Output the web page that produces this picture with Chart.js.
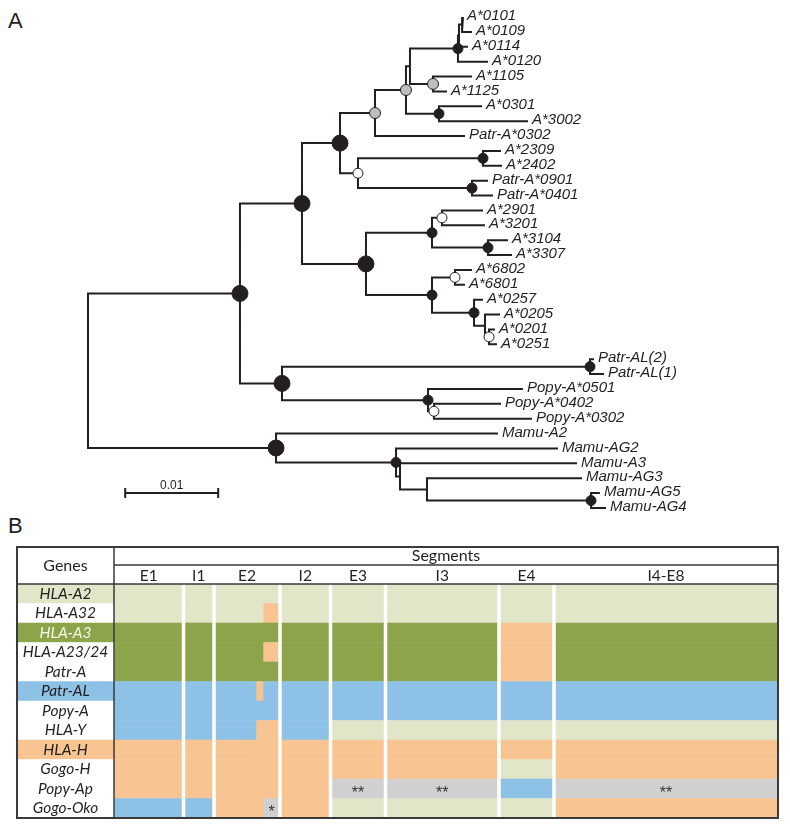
<!DOCTYPE html>
<html lang="en">
<head>
<meta charset="UTF-8">
<title>HLA-A phylogeny and segment lineages</title>
<script src="https://cdn.jsdelivr.net/npm/chart.js"></script>
<style>
    body { margin: 0; background: #fff; }
    .page { position: relative; width: 790px; height: 830px; overflow: hidden; }
    .page canvas { position: absolute; left: 0; top: 0; }
    .panel { position: absolute; left: 8px; font-family: 'Liberation Sans', Arial, sans-serif; font-size: 22px; line-height: 26px; color: #231f20; }
</style>
</head>
<body>
<div class="page">
    <div class="panel" style="top: 8px">A</div>
    <div class="panel" style="top: 513px">B</div>
    <canvas id="tableChart" width="790" height="830"></canvas>
    <canvas id="treeChart" width="790" height="830"></canvas>
</div>
<script>
// ---- panel A: tree data ----
// tips, top to bottom
const taxa = ['A*0101', 'A*0109', 'A*0114', 'A*0120', 'A*1105', 'A*1125', 'A*0301', 'A*3002', 'Patr-A*0302',
    'A*2309', 'A*2402', 'Patr-A*0901', 'Patr-A*0401', 'A*2901', 'A*3201', 'A*3104', 'A*3307', 'A*6802', 'A*6801',
    'A*0257', 'A*0205', 'A*0201', 'A*0251', 'Patr-AL(2)', 'Patr-AL(1)', 'Popy-A*0501', 'Popy-A*0402', 'Popy-A*0302',
    'Mamu-A2', 'Mamu-AG2', 'Mamu-A3', 'Mamu-AG3', 'Mamu-AG5', 'Mamu-AG4'];
// distance from root to each tip
const tipDist = [0.04032, 0.04129, 0.04086, 0.04301, 0.04129, 0.03860, 0.04237, 0.04731, 0.04054,
    0.04441, 0.04452, 0.04301, 0.04355, 0.04247, 0.04269, 0.04516, 0.04559, 0.04129, 0.04054,
    0.04247, 0.04430, 0.04376, 0.04398, 0.05441, 0.05548, 0.04677, 0.04441, 0.04774,
    0.04409, 0.05054, 0.05258, 0.05312, 0.05505, 0.05570];
const tipParent = ['nb', 'nb', 'na', 'n6', 'g3', 'g3', 'n7', 'n7', 'g1',
    'n8', 'n8', 'n9', 'n9', 'w2', 'w2', 'n12', 'n12', 'w3', 'w3',
    'n13', 'n14', 'w4', 'w4', 'al', 'al', 'p1', 'pw', 'pw',
    'm', 'm2', 'm3', 'm4', 'm5', 'm5'];

// internal nodes
const nodeNames = ['root', 'n1', 'm', 'n2', 'n3', 'n5', 'n4', 'g1', 'w1', 'g2', 'gx', 'n7', 'n6', 'na', 'nb', 'g3',
    'n8', 'n9', 'n10', 'n11', 'w2', 'n12', 'w3', 'n13', 'n14', 'w4', 'al', 'p1', 'pw', 'm2', 'm3', 'm4', 'm5'];
const nodeParent = [null, 'root', 'root', 'n1', 'n1', 'n2', 'n2', 'n5', 'n5', 'g1', 'g2', 'g2', 'gx', 'n6', 'na', 'gx',
    'w1', 'w1', 'n4', 'n4', 'n10', 'n10', 'n11', 'n11', 'n13', 'n14', 'n3', 'n3', 'p1', 'm', 'm2', 'm3', 'm4'];
const nodeDist = [0, 0.01634, 0.02022, 0.02301, 0.02086, 0.02710, 0.02989, 0.03086, 0.02903, 0.03419, 0.03462, 0.03774,
    0.03978, 0.03989, 0.04022, 0.03710, 0.04247, 0.04129, 0.03699, 0.03699, 0.03806, 0.04301, 0.03946, 0.04151,
    0.04269, 0.04312, 0.05398, 0.03656, 0.03720, 0.03312, 0.03355, 0.03645, 0.05409];
// node support class ('' = not marked)
const nodeSupport = ['', 'strong', 'strong', 'strong', 'strong', 'strong', 'strong', 'mid', 'low', 'mid', '', 'high',
    'high', '', '', 'mid', 'high', 'high', 'high', 'high', 'low', 'high', 'low', 'high', '', 'low', 'high', 'high',
    'low', 'high', '', '', 'high'];

const scaleBarLength = 0.01;
const scaleBarStart = 0.004;

// ---- panel B: segment table data ----
const genes = ['HLA-A2', 'HLA-A32', 'HLA-A3', 'HLA-A23/24', 'Patr-A', 'Patr-AL', 'Popy-A', 'HLA-Y', 'HLA-H', 'Gogo-H', 'Popy-Ap', 'Gogo-Oko'];
const segments = ['E1', 'I1', 'E2', 'I2', 'E3', 'I3', 'E4', 'I4-E8'];
const segLength = [69.5, 30.5, 66, 50.5, 55, 113.5, 55, 224];
// exon 2 splits into three pieces
const e2Parts = [42, 7, 17];
// lineage of each piece: E1, I1, E2a, E2b, E2c, I2, E3, I3, E4, I4-E8
// g = HLA-A2, G = HLA-A3, b = Patr-AL, o = HLA-H, x = unresolved
const cells = [
    'gggggggggg',
    'ggggoggggg',
    'GGGGGGGGoG',
    'GGGGoGGGoG',
    'GGGGGGGGoG',
    'bbbobbbbbb',
    'bbbbbbbbbb',
    'bbboobgggg',
    'oooooooooo',
    'oooooooogo',
    'ooooooxxbx',
    'bbooxogggo'
];
// reference gene of each lineage (coloured label)
const rowLineage = ['g', '', 'G', '', '', 'b', '', '', 'o', '', '', ''];
const unresolvedMark = { 'Popy-Ap': '**', 'Gogo-Oko': '*' };

const INK = '#231f20';
const lineageColor = { g: '#e1e6c8', G: '#8ca54b', b: '#8ec1e6', o: '#f8c592', x: '#d0d0d0' };

// ---- tree layout ----
const pos = {};
const kids = {};
nodeNames.forEach(n => kids[n] = []);
taxa.forEach((t, i) => {
    pos['tip' + i] = { x: tipDist[i], y: i };
    kids[tipParent[i]].push('tip' + i);
});
nodeNames.forEach((n, i) => { if (nodeParent[i]) kids[nodeParent[i]].push(n); });
function place(n) {
    if (pos[n]) return pos[n];
    const ys = kids[n].map(c => place(c).y);
    pos[n] = { x: nodeDist[nodeNames.indexOf(n)], y: (Math.min(...ys) + Math.max(...ys)) / 2 };
    return pos[n];
}
place('root');

const branchPts = [];
nodeNames.forEach(n => {
    const p = pos[n];
    const ch = kids[n].map(c => pos[c]).sort((a, b) => a.y - b.y);
    const first = ch[0], last = ch[ch.length - 1];
    branchPts.push({ x: first.x, y: first.y }, { x: p.x, y: first.y }, { x: p.x, y: last.y }, { x: last.x, y: last.y }, { x: null, y: null });
    ch.slice(1, -1).forEach(c => branchPts.push({ x: p.x, y: c.y }, { x: c.x, y: c.y }, { x: null, y: null }));
});

const supportStyle = {
    strong: { r: 8, fill: INK },
    high: { r: 5, fill: INK },
    mid: { r: 5.5, fill: '#bfbfbf' },
    low: { r: 5, fill: '#ffffff' }
};
const marked = nodeNames.filter((n, i) => nodeSupport[i]);
const markedStyle = marked.map(n => supportStyle[nodeSupport[nodeNames.indexOf(n)]]);

const treeText = {
    id: 'treeText',
    afterDatasetsDraw(chart) {
        const { ctx, chartArea } = chart;
        const x = chart.scales.x, y = chart.scales.y;
        ctx.save();
        ctx.fillStyle = INK;
        ctx.font = 'italic 15px "Liberation Sans", Arial, sans-serif';
        ctx.textBaseline = 'middle';
        taxa.forEach((t, i) => ctx.fillText(t, x.getPixelForValue(tipDist[i]) + 4, y.getPixelForValue(i) - 1));

        // scale bar
        const x0 = x.getPixelForValue(scaleBarStart);
        const x1 = x.getPixelForValue(scaleBarStart + scaleBarLength);
        const yb = chartArea.bottom - 15;
        ctx.strokeStyle = INK;
        ctx.lineWidth = 2;
        ctx.beginPath();
        ctx.moveTo(x0, yb); ctx.lineTo(x1, yb);
        ctx.moveTo(x0, yb - 5); ctx.lineTo(x0, yb + 5);
        ctx.moveTo(x1, yb - 5); ctx.lineTo(x1, yb + 5);
        ctx.stroke();
        ctx.font = '12px "Liberation Sans", Arial, sans-serif';
        ctx.textAlign = 'center';
        ctx.textBaseline = 'alphabetic';
        ctx.fillText(String(scaleBarLength), (x0 + x1) / 2, yb - 4);
        ctx.restore();
    }
};

new Chart(document.getElementById('treeChart'), {
    type: 'scatter',
    data: {
        datasets: [{
            label: 'support',
            data: marked.map(n => ({ x: pos[n].x, y: pos[n].y })),
            pointRadius: markedStyle.map(s => s.r),
            pointBackgroundColor: markedStyle.map(s => s.fill),
            pointBorderColor: INK,
            pointBorderWidth: 1,
            order: 0,
            clip: false
        }, {
            label: 'branches',
            data: branchPts,
            showLine: true,
            spanGaps: false,
            borderColor: INK,
            borderWidth: 2,
            pointRadius: 0,
            order: 1,
            clip: false
        }]
    },
    options: {
        responsive: false,
        animation: false,
        devicePixelRatio: 1,
        events: [],
        layout: { padding: { left: 88, right: 144, top: 17, bottom: 322 } },
        scales: {
            x: { type: 'linear', display: false, min: 0, max: 0.06 },
            y: { type: 'linear', display: false, min: 0, max: taxa.length - 1, reverse: true }
        },
        plugins: { legend: { display: false }, tooltip: { enabled: false } }
    },
    plugins: [treeText]
});

// ---- table ----
const GENE_COL = 97;
const pieces = [];
const segEdges = [0];
let at = 0;
segments.forEach((s, k) => {
    const parts = s === 'E2' ? e2Parts : [segLength[k]];
    parts.forEach(len => { pieces.push([at, at + len]); at += len; });
    segEdges.push(at);
});

const tableSets = [{
    data: genes.map(() => [-GENE_COL, 0]),
    backgroundColor: rowLineage.map(k => k ? lineageColor[k] : '#ffffff')
}];
pieces.forEach((p, j) => tableSets.push({
    data: genes.map(() => p),
    backgroundColor: genes.map((g, r) => lineageColor[cells[r][j]])
}));

const tableText = {
    id: 'tableText',
    afterDatasetsDraw(chart) {
        const { ctx, chartArea: a } = chart;
        const x = chart.scales.x, y = chart.scales.y;
        const boxTop = a.top - 37, midLine = a.top - 19;
        const colX = x.getPixelForValue(0);
        ctx.save();

        // white gaps between segments
        ctx.fillStyle = '#ffffff';
        segEdges.slice(1, -1).forEach(e => ctx.fillRect(x.getPixelForValue(e) - 1.75, a.top, 3.5, a.bottom - a.top));

        // asterisks in unresolved cells
        ctx.fillStyle = '#333333';
        ctx.font = '16px "Liberation Sans", Arial, sans-serif';
        ctx.textAlign = 'center';
        ctx.textBaseline = 'alphabetic';
        genes.forEach((g, r) => {
            if (!unresolvedMark[g]) return;
            pieces.forEach((p, j) => {
                if (cells[r][j] === 'x') ctx.fillText(unresolvedMark[g], x.getPixelForValue((p[0] + p[1]) / 2), y.getPixelForValue(r) + 9);
            });
        });

        // gene names
        ctx.font = 'italic 15.5px Lato, sans-serif';
        ctx.textBaseline = 'middle';
        genes.forEach((g, r) => {
            ctx.fillStyle = rowLineage[r] === 'G' ? '#f6f4e2' : INK;
            ctx.fillText(g, x.getPixelForValue(-GENE_COL / 2), y.getPixelForValue(r));
        });

        // header
        ctx.fillStyle = INK;
        ctx.font = '16px Lato, sans-serif';
        ctx.fillText('Genes', x.getPixelForValue(-GENE_COL / 2), (boxTop + a.top) / 2);
        ctx.fillText('Segments', x.getPixelForValue(segEdges[segEdges.length - 1] / 2), (boxTop + midLine) / 2);
        ctx.font = '15.5px Lato, sans-serif';
        segments.forEach((s, k) => ctx.fillText(s, x.getPixelForValue((segEdges[k] + segEdges[k + 1]) / 2), (midLine + a.top) / 2 + 1));

        // rules
        ctx.strokeStyle = '#3a3a3a';
        ctx.lineWidth = 1.5;
        ctx.beginPath();
        ctx.moveTo(a.left, a.top); ctx.lineTo(a.right, a.top);
        ctx.moveTo(colX, midLine); ctx.lineTo(a.right, midLine);
        ctx.moveTo(colX, boxTop); ctx.lineTo(colX, a.bottom);
        ctx.stroke();
        ctx.lineWidth = 2;
        ctx.strokeRect(a.left, boxTop, a.right - a.left, a.bottom - boxTop);
        ctx.restore();
    }
};

new Chart(document.getElementById('tableChart'), {
    type: 'bar',
    data: { labels: genes, datasets: tableSets },
    options: {
        indexAxis: 'y',
        responsive: false,
        animation: false,
        devicePixelRatio: 1,
        events: [],
        grouped: false,
        barPercentage: 1,
        categoryPercentage: 1,
        borderWidth: 0,
        layout: { padding: { left: 17, right: 12, top: 584, bottom: 12 } },
        scales: {
            x: { type: 'linear', display: false, min: -GENE_COL, max: segEdges[segEdges.length - 1] },
            y: { type: 'category', display: false }
        },
        plugins: { legend: { display: false }, tooltip: { enabled: false } }
    },
    plugins: [tableText]
});
</script>
</body>
</html>
